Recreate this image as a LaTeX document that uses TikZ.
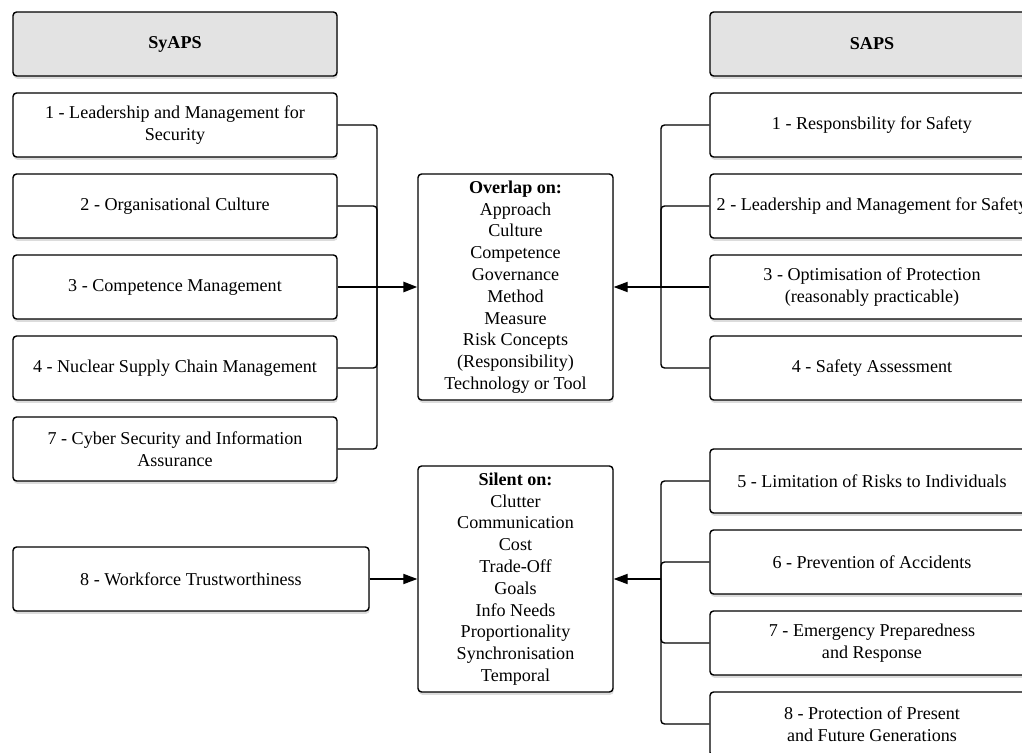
\documentclass[tikz,border=0pt]{standalone}
\usepackage{fontspec}
\setmainfont{Liberation Serif}
\usepackage{tikz}
\usetikzlibrary{arrows.meta,shadows}

\definecolor{headgray}{HTML}{E3E3E3}

\begin{document}
\begin{tikzpicture}[x=0.02cm,y=-0.02cm]

\tikzset{box/.style = {shape=rectangle,draw,rounded corners=2pt,line width=0.8pt,fill=white,
  minimum width=6.48cm,minimum height=1.28cm,align=center,inner sep=2pt,
  font=\fontsize{10.3}{12.4}\selectfont,
  drop shadow={shadow xshift=0.4pt,shadow yshift=-1.6pt,opacity=0.28}}}
\tikzset{head/.style = {box,fill=headgray,font=\fontsize{10.3}{12.4}\selectfont\bfseries}}
\tikzset{list/.style = {box,minimum width=3.9cm,minimum height=4.52cm}}
\tikzset{link/.style = {line width=0.8pt,rounded corners=2pt}}
\tikzset{edge/.style = {->,> = {Triangle[length=8pt,width=5.8pt]},line width=0.8pt}}

\useasboundingbox (0,0) rectangle (1022,753);
\clip (0,0) rectangle (1022,753);

% SyAPS column
\node[head] (syaps) at (175,44) {SyAPS};
\node[box] (l1) at (175,125) {1 - Leadership and Management for\\Security};
\node[box] (l2) at (175,206) {2 - Organisational Culture};
\node[box] (l3) at (175,287) {3 - Competence Management};
\node[box] (l4) at (175,368) {4 - Nuclear Supply Chain Management};
\node[box] (l7) at (175,449) {7 - Cyber Security and Information\\Assurance};
\node[box,minimum width=7.12cm] (l8) at (191,579) {8 - Workforce Trustworthiness};

% SAPS column
\node[head] (saps) at (872,44) {SAPS};
\node[box] (r1) at (872,125) {1 - Responsbility for Safety};
\node[box] (r2) at (872,206) {2 - Leadership and Management for Safety};
\node[box] (r3) at (872,287) {3 - Optimisation of Protection\\(reasonably practicable)};
\node[box] (r4) at (872,368) {4 - Safety Assessment};
\node[box] (r5) at (872,481) {5 - Limitation of Risks to Individuals};
\node[box] (r6) at (872,562) {6 - Prevention of Accidents};
\node[box] (r7) at (872,643) {7 - Emergency Preparedness\\and Response};
\node[box] (r8) at (872,724) {8 - Protection of Present\\and Future Generations};

% overlap and silent lists
\node[list] (overlap) at (515.5,287) {\textbf{Overlap on:}\\Approach\\Culture\\Competence\\Governance\\Method\\Measure\\Risk Concepts\\(Responsibility)\\Technology or Tool};
\node[list] (silent) at (515.5,579) {\textbf{Silent on:}\\Clutter\\Communication\\Cost\\Trade-Off\\Goals\\Info Needs\\Proportionality\\Synchronisation\\Temporal};

% junctions
\coordinate (lj) at (377,287);
\coordinate (rj) at (661,287);
\coordinate (sj) at (661,579);

%edges
\draw[link] (l1.east) -| (lj);
\draw[link] (l2.east) -| (lj);
\draw[link] (l4.east) -| (lj);
\draw[link] (l7.east) -| (lj);
\draw[link] (l3.east) -- (lj);
\draw[edge,line width=1.4pt] (lj) -- (overlap.west);

\draw[link] (r1.west) -| (rj);
\draw[link] (r2.west) -| (rj);
\draw[link] (r3.west) -- (rj);
\draw[link] (r4.west) -| (rj);
\draw[edge] (rj) -- (overlap.east);

\draw[link] (r5.west) -| (sj);
\draw[link] (r6.west) -| (sj);
\draw[link] (r7.west) -| (sj);
\draw[link] (r8.west) -| (sj);
\draw[edge] (sj) -- (silent.east);

\draw[edge] (l8.east) -- (silent.west);
\end{tikzpicture}
\end{document}
